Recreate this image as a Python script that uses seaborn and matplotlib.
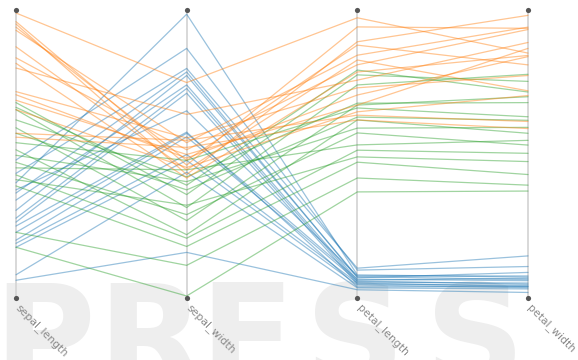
import numpy as np
import pandas as pd
import matplotlib
matplotlib.use("Agg")
import matplotlib.pyplot as plt
import seaborn as sns

# Dimensions shown as parallel axes, with the fixed value range of each axis
dimensions = ["sepal_length", "sepal_width", "petal_length", "petal_width"]
axis_min = [4.3, 2.0, 1.0, 0.1]
axis_max = [7.9, 4.4, 6.9, 2.5]

# Measurements per group (sepal_length, sepal_width, petal_length, petal_width)
setosa_sl = [5.74, 6.03, 5.86, 5.61, 5.52, 5.39, 5.29, 5.24, 5.65, 5.19, 5.11, 5.01, 4.97, 4.92, 4.57, 4.50]
setosa_sw = [4.39, 4.10, 3.93, 3.90, 3.79, 3.87, 3.76, 3.72, 3.57, 3.39, 3.38, 3.35, 3.20, 3.15, 3.05, 2.37]
setosa_pl = [1.44, 1.54, 1.58, 1.38, 1.33, 1.40, 1.29, 1.25, 1.42, 1.19, 1.35, 1.31, 1.27, 1.23, 1.17, 1.13]
setosa_pw = [0.26, 0.35, 0.44, 0.30, 0.25, 0.24, 0.21, 0.19, 0.27, 0.18, 0.23, 0.20, 0.18, 0.17, 0.16, 0.13]

versicolor_sl = [6.76, 6.70, 6.67, 6.54, 6.44, 6.37, 6.25, 6.16, 6.09, 6.00, 5.93, 5.84, 5.78, 5.70, 5.11, 4.92]
versicolor_sw = [2.86, 2.94, 2.75, 3.01, 2.64, 2.90, 3.15, 2.52, 2.97, 2.69, 3.07, 2.49, 2.77, 2.42, 2.26, 2.00]
versicolor_pl = [5.61, 5.71, 5.40, 5.02, 4.98, 4.73, 4.92, 4.67, 4.50, 4.40, 4.15, 4.04, 3.90, 3.79, 3.46, 3.17]
versicolor_pw = [1.92, 1.83, 1.98, 1.74, 1.79, 1.59, 1.62, 1.48, 1.53, 1.38, 1.42, 1.31, 1.24, 1.13, 1.04, 0.99]

virginica_sl = [7.90, 7.79, 7.76, 7.72, 7.68, 7.47, 7.33, 7.26, 7.20, 6.90, 6.86, 6.67, 6.37, 6.32, 6.79]
virginica_sw = [3.81, 3.11, 3.03, 3.15, 3.30, 3.07, 3.24, 3.00, 3.54, 3.34, 3.17, 3.09, 3.32, 3.26, 3.20]
virginica_pl = [6.80, 6.61, 6.30, 6.23, 6.02, 5.92, 5.82, 5.67, 5.50, 5.34, 5.19, 4.84, 4.77, 4.67, 4.98]
virginica_pw = [2.16, 2.37, 2.48, 2.06, 2.38, 1.84, 2.36, 2.14, 2.25, 1.97, 2.13, 1.80, 1.58, 1.52, 2.20]

species_colors = {"setosa": "#1f77b4", "versicolor": "#2ca02c", "virginica": "#ff7f0e"}

groups = {
    "setosa": (setosa_sl, setosa_sw, setosa_pl, setosa_pw),
    "versicolor": (versicolor_sl, versicolor_sw, versicolor_pl, versicolor_pw),
    "virginica": (virginica_sl, virginica_sw, virginica_pl, virginica_pw),
}

frames = []
for name, cols in groups.items():
    df = pd.DataFrame(dict(zip(dimensions, cols)))
    df["species"] = name
    frames.append(df)
wide = pd.concat(frames, ignore_index=True)
wide["row"] = np.arange(len(wide))

# Scale every dimension to [0, 1] over its axis range
for d, lo, hi in zip(dimensions, axis_min, axis_max):
    wide[d] = (wide[d] - lo) / (hi - lo)

long = wide.melt(id_vars=["species", "row"], value_vars=dimensions,
                 var_name="dimension", value_name="scaled")
long["pos"] = long["dimension"].map({d: i for i, d in enumerate(dimensions)})

sns.set_theme(style="white")
fig = plt.figure(figsize=(5.78, 3.6), dpi=100)
ax = fig.add_axes([0, 0, 1, 1])
ax.axis("off")

# Publisher watermark behind the plot, one letter at a time
for letter, left in zip("PRESS", [-0.012, 0.168, 0.345, 0.527, 0.735]):
    ax.text(left, -0.066, letter, transform=fig.transFigure, fontsize=100,
            fontweight="bold", color="#eeeeee", ha="left", va="baseline", zorder=0)

# Vertical axes
for i in range(len(dimensions)):
    ax.plot([i, i], [-0.007, 1.01], color="#d6d6d6", lw=1.3, zorder=1)

sns.lineplot(data=long, x="pos", y="scaled", hue="species", units="row",
             estimator=None, palette=species_colors, lw=0.9, alpha=0.45,
             legend=False, sort=False, ax=ax, zorder=2)

xs = np.arange(len(dimensions))
ax.scatter(xs, np.full(len(xs), 1.0106), s=14, color="#555555", zorder=4, linewidths=0)
ax.scatter(xs, np.full(len(xs), -0.007), s=14, color="#555555", zorder=4, linewidths=0)

for i, d in enumerate(dimensions):
    ax.text(i + 0.03, -0.022, d, rotation=-45, rotation_mode="anchor",
            ha="left", va="top", fontsize=7.8, color="#8a8a8a", zorder=5)

ax.set_xlim(-16 / 170.667, 3 + 50 / 170.667)
ax.set_ylim(-64 / 283, 1 + 13 / 283)

fig.savefig("out.png", dpi=100)
